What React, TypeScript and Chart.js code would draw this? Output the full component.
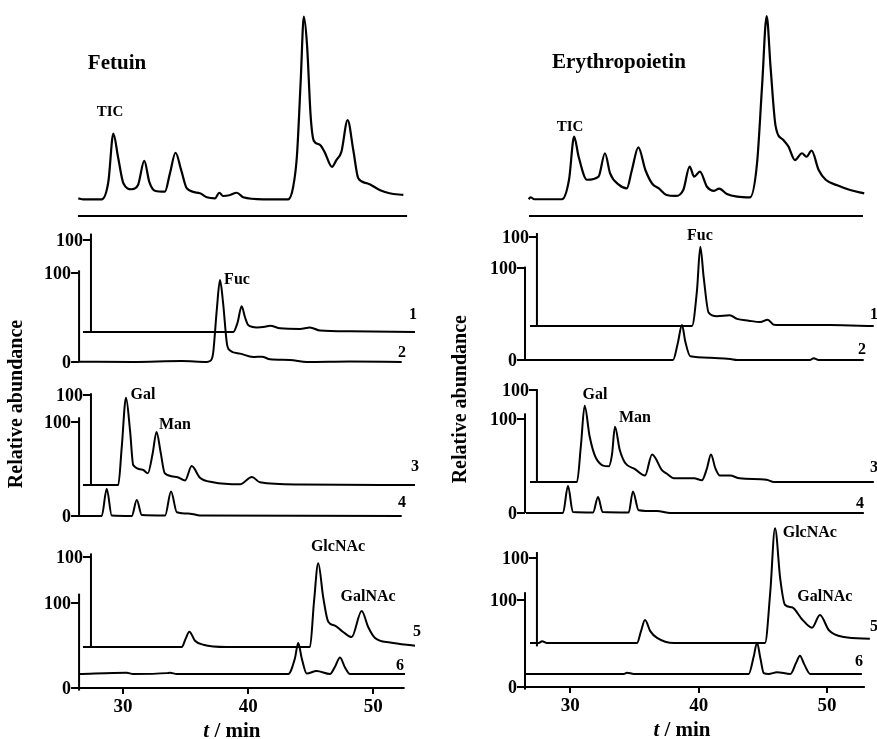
import { useEffect, useRef } from 'react';
import { Chart, registerables } from 'chart.js';

Chart.register(...registerables);

const SERIF = '"Liberation Serif", "Times New Roman", serif';

// ---------------- x ticks ----------------
const xTickValues = [30, 40, 50];

// ---------------- Fetuin (left column) ----------------
const fetTicT = [26.43, 26.83, 28.3, 28.83, 29.23, 29.6, 30.03, 30.7, 31.2, 31.7, 32.1, 32.55, 33.35, 33.75, 34.2, 34.65, 35.1, 36.15, 36.7, 37.35, 37.7, 38.0, 38.5, 39.1, 39.6, 41.2, 43.2, 43.6, 43.9, 44.2, 44.45, 44.7, 45.0, 45.25, 45.7, 46.1, 46.7, 47.05, 47.45, 47.95, 48.4, 48.8, 49.5, 50.55, 51.3, 52.4];
const fetTicV = [0.5, 0, 0, 9.6, 36, 23.3, 8.8, 5.5, 7.8, 21, 9.6, 4.7, 4.2, 14.2, 25.5, 16, 6, 3.3, 1.1, 0.5, 3.6, 1.8, 2.2, 3.6, 1.1, 0, 0, 6.9, 24, 65, 100, 85, 45, 32, 30, 26, 17.8, 21.5, 26, 43.4, 27, 11.5, 8.8, 5, 3.3, 2.4];

const fet1T = [26.8, 38.81, 39.15, 39.48, 39.75, 40.0, 40.7, 41.35, 41.75, 42.55, 44.14, 44.94, 45.74, 48.14, 53.33];
const fet1V = [0, 0, 10, 28, 16, 7.6, 5, 5.8, 6.9, 4, 3.3, 5, 1.5, 0.7, 0];

const fet2T = [26.48, 30.8, 34.7, 36.7, 36.95, 37.2, 37.49, 37.75, 38.0, 38.3, 38.55, 39.35, 40.4, 41.1, 41.75, 43.34, 44.7, 48.1, 52.27];
const fet2V = [0.3, 0, 1, 0, 1, 9.7, 58, 92, 66, 21, 13, 9.4, 5.6, 6, 3, 2.3, 0, 0.5, 0];

const fet3T = [26.8, 29.62, 29.9, 30.24, 30.56, 30.82, 31.58, 31.98, 32.37, 32.68, 33.0, 33.34, 34.29, 34.96, 35.49, 36.15, 37.2, 39.35, 40.3, 40.94, 44.14, 53.33];
const fet3V = [0, 0, 42, 97, 61, 22, 17, 13, 35, 59, 37, 13, 9, 5, 21, 8, 3, 0.7, 9, 3, 0.5, 0];

const fet4T = [26.48, 28.3, 28.7, 29.1, 30.7, 31.1, 31.5, 33.36, 33.84, 34.3, 35.35, 36.15, 52.27];
const fet4V = [0, 0, 29, 0.5, 0, 17, 1, 0.5, 26, 4, 2.5, 0.5, 0];

const fet5T = [26.8, 34.69, 35.0, 35.3, 35.75, 36.42, 38.3, 44.94, 45.26, 45.6, 46.0, 46.4, 46.9, 47.56, 48.27, 49.07, 49.6, 50.14, 51.34, 53.33];
const fet5V = [0, 0, 9, 17, 7, 2.5, 0, 0, 50, 93, 55, 28, 24, 17, 11, 40, 22, 10, 5, 1.5];

const fet6T = [26.48, 30.3, 30.8, 33.5, 33.76, 34.3, 43.2, 43.74, 44.0, 44.28, 44.68, 45.47, 46.54, 46.94, 47.34, 47.74, 48.14, 52.53];
const fet6V = [16.5, 18, 16.5, 17.5, 18, 16.5, 16.5, 35, 53, 35, 17, 20, 16.5, 25, 36, 24, 16.5, 16.5];

// ---------------- Erythropoietin (right column) ----------------
const epoTicT = [26.76, 26.9, 27.2, 29.35, 29.9, 30.3, 30.65, 31.3, 32.2, 32.7, 33.1, 33.8, 34.4, 34.8, 35.3, 35.85, 36.4, 36.9, 37.5, 38.2, 38.8, 39.3, 39.65, 40.1, 40.65, 41.2, 41.6, 42.2, 43.0, 44.0, 44.55, 44.95, 45.3, 45.6, 46.0, 46.6, 47.0, 47.5, 48.05, 48.4, 48.8, 49.35, 49.9, 50.8, 51.8, 52.9];
const epoTicV = [0.4, 1.5, 0.4, 0.4, 11, 34.4, 23.5, 11, 12.7, 25.4, 14.5, 8.2, 6.3, 16.3, 28.6, 16.3, 8.7, 6.3, 2.7, 2.2, 5.4, 18.1, 12.7, 15.4, 7.2, 5, 6.2, 3.3, 1.8, 1.4, 20, 63, 100, 72.5, 40, 32.6, 29, 21.7, 25.4, 23.5, 26.8, 16.3, 11, 8, 5.4, 3.6];

const epo1T = [26.86, 39.48, 39.87, 40.13, 40.39, 40.78, 41.43, 42.42, 42.99, 43.9, 44.8, 45.38, 45.85, 47.14, 50.26, 53.64];
const epo1V = [0, 0, 40, 89, 55, 15, 11, 12, 8, 6, 4.5, 7, 1.5, 1, 1, 0];

const epo2T = [26.47, 38.0, 38.37, 38.7, 38.96, 39.35, 40.9, 42.47, 43.0, 48.7, 48.96, 49.35, 52.86];
const epo2V = [0, 0, 18, 38, 20, 4, 2.5, 1, 0, 0, 2, 0, 0];

const epo3T = [26.86, 30.52, 30.83, 31.12, 31.5, 32.0, 33.0, 33.25, 33.48, 33.85, 34.26, 35.04, 35.82, 36.37, 37.14, 37.53, 38.08, 39.64, 40.26, 40.65, 40.96, 41.3, 41.66, 42.44, 43.2, 45.3, 45.86, 53.65];
const epo3V = [0, 0, 40, 83, 50, 26, 17, 30, 60, 35, 21, 14, 7, 30, 13, 9, 4, 4, 2, 15, 30, 15, 7, 7, 4, 2.5, 0, 0];

const epo4T = [26.55, 29.43, 29.82, 30.2, 31.77, 32.16, 32.52, 34.55, 34.88, 35.32, 36.76, 37.8, 52.87];
const epo4V = [0, 0, 29, 1, 0.5, 17, 1, 0.5, 23, 3, 2, 0, 0];

const epo5T = [26.86, 27.54, 27.8, 28.18, 35.2, 35.51, 35.82, 36.23, 36.76, 38.08, 45.17, 45.58, 45.95, 46.36, 46.72, 47.27, 48.05, 48.83, 49.45, 50.15, 51.32, 53.34];
const epo5V = [0, 0, 2, 0, 0, 14, 27, 14, 6, 0, 0, 60, 135, 75, 45, 42, 28, 18, 33, 15, 7, 5];

const epo6T = [26.47, 34.16, 34.42, 34.94, 43.9, 44.29, 44.55, 44.81, 45.07, 45.45, 46.1, 47.14, 47.6, 47.89, 48.23, 48.7, 52.72];
const epo6V = [15, 15, 16.5, 15, 15, 35, 51, 33, 16, 15, 17, 15, 28, 36, 26, 15, 15];

// ---------------- layout configs ----------------
type AxisDef = { id: string; x: number; top: number; bottom?: number; labels: number[] };
type LineDef = { id: string; x1: number; x2: number; y: number };
type TextDef = { t: string; x: number; y: number; id: string; size: number };
type ColDef = {
  left: number;
  width: number;
  height: number;
  axisY: number;
  padL: number;
  padR: number;
  px30: number;
  px50: number;
  scales: Record<string, [number, number]>;
  traces: { id: string; t: number[]; v: number[]; w: number }[];
  axes: AxisDef[];
  lines: LineDef[];
  texts: TextDef[];
};

const leftCol: ColDef = {
  left: 0,
  width: 438,
  height: 739,
  axisY: 688,
  padL: 70,
  padR: 8,
  px30: 123,
  px50: 373.3,
  scales: {
    tic: [199.3, 16.7],
    s1: [332, 240],
    s2: [362, 273],
    s3: [485, 395],
    s4: [516, 422],
    s5: [647, 557],
    s6: [688, 603],
  },
  traces: [
    { id: 'tic', t: fetTicT, v: fetTicV, w: 2.2 },
    { id: 's1', t: fet1T, v: fet1V, w: 2 },
    { id: 's2', t: fet2T, v: fet2V, w: 2 },
    { id: 's3', t: fet3T, v: fet3V, w: 2 },
    { id: 's4', t: fet4T, v: fet4V, w: 2 },
    { id: 's5', t: fet5T, v: fet5V, w: 2 },
    { id: 's6', t: fet6T, v: fet6V, w: 2 },
  ],
  axes: [
    { id: 's1', x: 27.44, top: 107, labels: [100] },
    { id: 's2', x: 26.49, top: 103, labels: [100, 0] },
    { id: 's3', x: 27.44, top: 102, labels: [100] },
    { id: 's4', x: 26.49, top: 105, labels: [100, 0] },
    { id: 's5', x: 27.44, top: 104, labels: [100] },
    { id: 's6', x: 26.49, top: 111, bottom: -3, labels: [100, 0] },
  ],
  lines: [
    { id: 'tic', x1: 26.4, x2: 52.7, y: -9.1 },
    { id: 's6', x1: 26.49, x2: 52.5, y: 0 },
  ],
  texts: [
    { t: 'Fetuin', x: 29.52, y: 74.6, id: 'tic', size: 21 },
    { t: 'TIC', x: 28.96, y: 47.8, id: 'tic', size: 15 },
    { t: 'Fuc', x: 39.11, y: 92, id: 's2', size: 16 },
    { t: 'Gal', x: 31.6, y: 100, id: 's3', size: 16 },
    { t: 'Man', x: 34.15, y: 66.7, id: 's3', size: 16 },
    { t: 'GlcNAc', x: 47.18, y: 111, id: 's5', size: 16 },
    { t: 'GalNAc', x: 49.58, y: 55.6, id: 's5', size: 16 },
    { t: '1', x: 53.17, y: 18.5, id: 's1', size: 16 },
    { t: '2', x: 52.29, y: 10, id: 's2', size: 16 },
    { t: '3', x: 53.33, y: 20, id: 's3', size: 16 },
    { t: '4', x: 52.29, y: 13.8, id: 's4', size: 16 },
    { t: '5', x: 53.49, y: 16.7, id: 's5', size: 16 },
    { t: '6', x: 52.13, y: 25.9, id: 's6', size: 16 },
  ],
};

const rightCol: ColDef = {
  left: 438,
  width: 439,
  height: 739,
  axisY: 687,
  padL: 70,
  padR: 1,
  px30: 132.3,
  px50: 389,
  scales: {
    tic: [200, 16],
    s1: [326, 237],
    s2: [360, 268],
    s3: [482, 390],
    s4: [513, 419],
    s5: [643, 558],
    s6: [687, 600],
  },
  traces: [
    { id: 'tic', t: epoTicT, v: epoTicV, w: 2.2 },
    { id: 's1', t: epo1T, v: epo1V, w: 2 },
    { id: 's2', t: epo2T, v: epo2V, w: 2 },
    { id: 's3', t: epo3T, v: epo3V, w: 2 },
    { id: 's4', t: epo4T, v: epo4V, w: 2 },
    { id: 's5', t: epo5T, v: epo5V, w: 2 },
    { id: 's6', t: epo6T, v: epo6V, w: 2 },
  ],
  axes: [
    { id: 's1', x: 27.4, top: 104.5, labels: [100] },
    { id: 's2', x: 26.47, top: 101.5, labels: [100, 0] },
    { id: 's3', x: 27.4, top: 101, labels: [100] },
    { id: 's4', x: 26.47, top: 106, labels: [100, 0] },
    { id: 's5', x: 27.4, top: 107, bottom: -4, labels: [100] },
    { id: 's6', x: 26.47, top: 109, bottom: -3, labels: [100, 0] },
  ],
  lines: [
    { id: 'tic', x1: 26.78, x2: 52.8, y: -8.7 },
    { id: 's6', x1: 26.47, x2: 52.95, y: 0 },
  ],
  texts: [
    { t: 'Erythropoietin', x: 33.79, y: 74.5, id: 'tic', size: 21 },
    { t: 'TIC', x: 29.98, y: 39.7, id: 'tic', size: 15 },
    { t: 'Fuc', x: 40.1, y: 101, id: 's1', size: 16 },
    { t: 'Gal', x: 31.92, y: 94.6, id: 's3', size: 16 },
    { t: 'Man', x: 35.04, y: 69.6, id: 's3', size: 16 },
    { t: 'GlcNAc', x: 48.66, y: 129, id: 's5', size: 16 },
    { t: 'GalNAc', x: 49.83, y: 54, id: 's5', size: 16 },
    { t: '1', x: 53.66, y: 12.4, id: 's1', size: 16 },
    { t: '2', x: 52.73, y: 10.9, id: 's2', size: 16 },
    { t: '3', x: 53.66, y: 15.2, id: 's3', size: 16 },
    { t: '4', x: 52.57, y: 9.6, id: 's4', size: 16 },
    { t: '5', x: 53.66, y: 18.8, id: 's5', size: 16 },
    { t: '6', x: 52.49, y: 28.7, id: 's6', size: 16 },
  ],
};

function makeDeco(col: ColDef) {
  return {
    id: 'deco',
    afterDatasetsDraw(chart: any) {
      const ctx: CanvasRenderingContext2D = chart.ctx;
      const xs = chart.scales.x;
      ctx.save();
      ctx.strokeStyle = '#000';
      ctx.fillStyle = '#000';
      ctx.lineWidth = 2;
      ctx.lineCap = 'butt';
      // axes
      for (const a of col.axes) {
        const ys = chart.scales[a.id];
        const px = xs.getPixelForValue(a.x);
        ctx.beginPath();
        ctx.moveTo(px, ys.getPixelForValue(a.bottom ?? 0));
        ctx.lineTo(px, ys.getPixelForValue(a.top));
        ctx.stroke();
        for (const v of a.labels) {
          const py = ys.getPixelForValue(v);
          ctx.beginPath();
          ctx.moveTo(px - 8, py);
          ctx.lineTo(px, py);
          ctx.stroke();
          ctx.font = `bold 18px ${SERIF}`;
          ctx.textAlign = 'right';
          ctx.textBaseline = 'middle';
          ctx.fillText(String(v), px - 8, py + 1);
        }
      }
      // lines
      for (const l of col.lines) {
        const ys = chart.scales[l.id];
        const py = ys.getPixelForValue(l.y);
        ctx.beginPath();
        ctx.moveTo(xs.getPixelForValue(l.x1), py);
        ctx.lineTo(xs.getPixelForValue(l.x2), py);
        ctx.stroke();
      }
      // texts
      ctx.textAlign = 'center';
      ctx.textBaseline = 'middle';
      for (const t of col.texts) {
        const ys = chart.scales[t.id];
        ctx.font = `bold ${t.size}px ${SERIF}`;
        ctx.fillText(t.t, xs.getPixelForValue(t.x), ys.getPixelForValue(t.y));
      }
      // x axis title "t / min"
      const titleY = col.axisY + 44;
      const cx = xs.getPixelForValue(38.7);
      const fItal = `italic bold 21px ${SERIF}`;
      const fNorm = `bold 21px ${SERIF}`;
      ctx.font = fItal;
      const w1 = ctx.measureText('t').width;
      ctx.font = fNorm;
      const w2 = ctx.measureText(' / min').width;
      const sx = cx - (w1 + w2) / 2;
      ctx.textAlign = 'left';
      ctx.font = fItal;
      ctx.fillText('t', sx, titleY);
      ctx.font = fNorm;
      ctx.fillText(' / min', sx + w1, titleY);
      // y axis title
      ctx.save();
      const ryx = xs.getPixelForValue(21.5);
      const ryy = chart.scales.s3.getPixelForValue(90);
      ctx.translate(ryx, ryy);
      ctx.rotate(-Math.PI / 2);
      ctx.textAlign = 'center';
      ctx.font = `bold 20px ${SERIF}`;
      ctx.fillText('Relative abundance', 0, 0);
      ctx.restore();
      ctx.restore();
    },
  };
}

function buildConfig(col: ColDef): any {
  const top = 0;
  const bottom = col.axisY;
  const L = col.padL;
  const R = col.width - col.padR;
  const unit = (col.px50 - col.px30) / 20;
  const xmin = 30 - (col.px30 - L) / unit;
  const xmax = 30 + (R - col.px30) / unit;
  const scales: any = {
    x: {
      type: 'linear',
      min: xmin,
      max: xmax,
      afterBuildTicks: (s: any) => {
        s.ticks = xTickValues.map((v) => ({ value: v }));
      },
      afterFit: (s: any) => {
        s.height = col.height - col.axisY;
      },
      grid: {
        display: true,
        drawOnChartArea: false,
        drawTicks: true,
        tickLength: 6,
        color: '#000',
        lineWidth: 2,
      },
      border: { display: false },
      ticks: {
        color: '#000',
        font: { family: SERIF, size: 19, weight: 'bold' },
        padding: 2,
        maxRotation: 0,
        autoSkip: false,
        callback: (v: number) => String(v),
      },
    },
  };
  for (const [id, [p0, p100]] of Object.entries(col.scales)) {
    const ppu = (p0 - p100) / 100;
    scales[id] = {
      type: 'linear',
      display: false,
      min: -(bottom - p0) / ppu,
      max: (p0 - top) / ppu,
    };
  }
  const datasets = col.traces.map((tr) => ({
    data: tr.t.map((t, i) => ({ x: t, y: tr.v[i] })),
    yAxisID: tr.id,
    borderColor: '#000',
    borderWidth: tr.w,
    pointRadius: 0,
    fill: false,
    cubicInterpolationMode: 'monotone',
    tension: 0.4,
  }));
  return {
    type: 'line',
    data: { datasets },
    options: {
      responsive: false,
      animation: false,
      devicePixelRatio: 1,
      layout: { padding: { left: L, right: col.padR, top: 0, bottom: 0 } },
      plugins: { legend: { display: false }, tooltip: { enabled: false } },
      scales,
    },
    plugins: [makeDeco(col)],
  };
}

function Column({ col }: { col: ColDef }) {
  const ref = useRef<HTMLCanvasElement | null>(null);
  useEffect(() => {
    if (!ref.current) return;
    const chart = new Chart(ref.current, buildConfig(col));
    return () => chart.destroy();
  }, [col]);
  return (
    <canvas
      ref={ref}
      width={col.width}
      height={col.height}
      style={{ position: 'absolute', left: col.left, top: 0, width: col.width, height: col.height }}
    />
  );
}

export default function App() {
  return (
    <div style={{ position: 'absolute', left: 0, top: 0, width: 877, height: 739, background: '#fff', overflow: 'hidden' }}>
      <Column col={leftCol} />
      <Column col={rightCol} />
    </div>
  );
}
